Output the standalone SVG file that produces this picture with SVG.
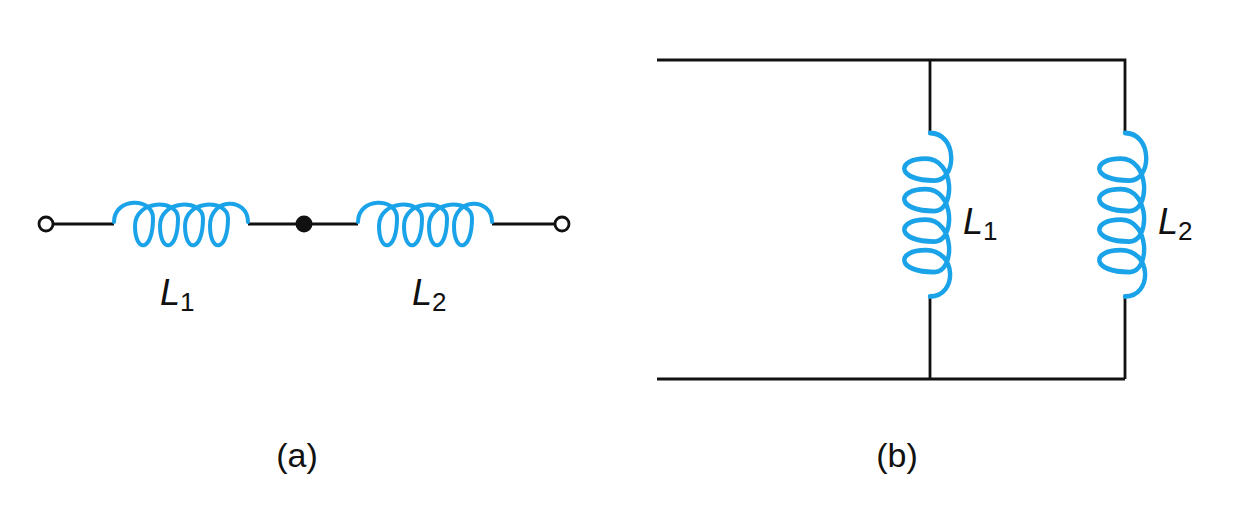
<svg xmlns="http://www.w3.org/2000/svg" width="1235" height="527" viewBox="0 0 1235 527">
<style>
.w{stroke:#111;stroke-width:2.8;fill:none}
.c{stroke:#1aa3e8;stroke-width:4;fill:none;stroke-linecap:round}
text{font-family:"Liberation Sans",Arial,sans-serif;fill:#111}
.L{font-style:italic;font-size:36px}
.s{font-size:26px;font-style:normal}
</style>
<defs>
<path id="coil" class="c" d="M0,0 C0,-25 39,-25 39,-4 C39,31 21,31 21,4 C21,-23 64,-23 64,-4 C64,31 46,31 46,4 C46,-23 89,-23 89,-4 C89,31 71,31 71,4 C71,-23 114,-23 114,-4 C114,31 96,31 96,4 C96,-25 134,-25 134,0"/>
</defs>
<rect width="1235" height="527" fill="#fff"/>
<g id="connectors">
<path class="w" d="M53,224 H114 M248,224 H358 M492,224 H555"/>
<path class="w" d="M657,60 H1125 V133 M930,60 V133 M930,296 V379 M1125,296 V379 M657,379 H1125"/>
</g>
<g id="term1"><circle cx="46" cy="224" r="7" fill="#fff" stroke="#111" stroke-width="2.8"/></g>
<g id="term2"><circle cx="562" cy="224" r="7" fill="#fff" stroke="#111" stroke-width="2.8"/></g>
<g id="node"><circle cx="304" cy="224" r="8.5" fill="#111"/></g>
<g id="L1a"><use href="#coil" transform="translate(114,222)"/><text class="L" x="160" y="305">L<tspan class="s" dy="6">1</tspan></text></g>
<g id="L2a"><use href="#coil" transform="translate(358,222)"/><text class="L" x="412" y="305">L<tspan class="s" dy="6">2</tspan></text></g>
<g id="L1b"><use href="#coil" transform="translate(930,133) rotate(90) scale(1.22,1.1)"/><text class="L" x="963" y="234">L<tspan class="s" dy="6">1</tspan></text></g>
<g id="L2b"><use href="#coil" transform="translate(1125,133) rotate(90) scale(1.22,1.1)"/><text class="L" x="1158" y="234">L<tspan class="s" dy="6">2</tspan></text></g>
<text x="297" y="467" font-size="34" text-anchor="middle">(a)</text>
<text x="897" y="467" font-size="34" text-anchor="middle">(b)</text>
</svg>
